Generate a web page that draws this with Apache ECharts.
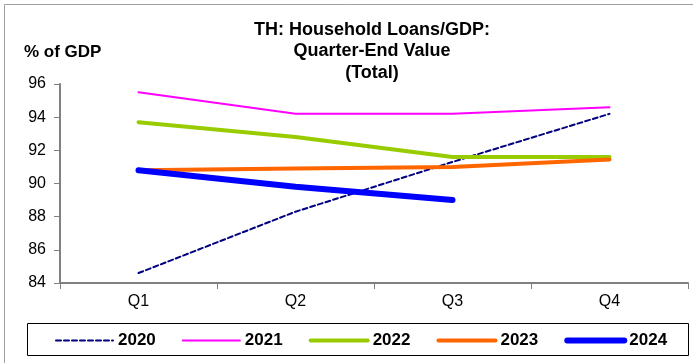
<!DOCTYPE html>
<html>
<head>
<meta charset="utf-8">
<script src="https://cdn.jsdelivr.net/npm/echarts@6/dist/echarts.min.js"></script>
<style>
  html, body { margin: 0; padding: 0; background: #fff; }
  #chart { width: 693px; height: 363px; }
</style>
</head>
<body>
<div id="chart"></div>
<script>
var quarters = ["Q1", "Q2", "Q3", "Q4"];
var y2020 = [84.6, 88.3, 91.3, 94.2];
var y2021 = [95.5, 94.2, 94.2, 94.6];
var y2022 = [93.7, 92.8, 91.6, 91.6];
var y2023 = [90.8, 90.9, 91.0, 91.45];
var y2024 = [90.8, 89.8, 89.0];

var FONT = "Liberation Sans, Arial, sans-serif";
var myChart = echarts.init(document.getElementById("chart"));

var styles = {
  "2020": { color: "#000080", width: 2, type: [5, 3] },
  "2021": { color: "#FF00FF", width: 2, type: "solid" },
  "2022": { color: "#99CC00", width: 4, type: "solid" },
  "2023": { color: "#FF6600", width: 4, type: "solid" },
  "2024": { color: "#0000FF", width: 6, type: "solid" },
};

function mkLine(name, data) {
  var s = styles[name];
  return {
    name: name,
    type: "line",
    data: data,
    symbol: "none",
    lineStyle: { color: s.color, width: s.width, type: s.type, cap: "round" },
    itemStyle: { color: s.color },
  };
}

// legend items: line only, no symbol
var legendData = Object.keys(styles).map(function (k) {
  var s = styles[k];
  return {
    name: k,
    itemStyle: { opacity: 0 },
    lineStyle: { color: s.color, width: s.width, type: s.type, cap: "round" },
  };
});

var option = {
  animation: false,
  textStyle: { fontFamily: FONT },
  title: {
    text: "TH: Household Loans/GDP:\nQuarter-End Value\n(Total)",
    left: 367,
    textAlign: "center",
    top: 14,
    textStyle: { fontSize: 18, fontWeight: "bold", color: "#000", lineHeight: 21.5, fontFamily: FONT },
  },
  graphic: [
    {
      type: "rect",
      shape: { x: 4.5, y: 4.5, width: 700, height: 360 },
      style: { fill: "none", stroke: "#a0a0a0", lineWidth: 1 },
    },
    {
      type: "rect",
      shape: { x: 27.5, y: 323.5, width: 661, height: 32 },
      style: { fill: "none", stroke: "#000", lineWidth: 1 },
    },
    {
      type: "text",
      x: 24,
      y: 52,
      style: { text: "% of GDP", font: "bold 17px " + FONT, fill: "#000", verticalAlign: "middle" },
    },
  ],
  legend: {
    top: 327,
    left: 50,
    itemWidth: 57,
    itemHeight: 14,
    itemGap: 26,
    textStyle: { fontSize: 17, fontWeight: "bold", color: "#000", fontFamily: FONT },
    data: legendData,
  },
  grid: { left: 60, right: 5, top: 84, bottom: 80 },
  xAxis: {
    type: "category",
    data: quarters,
    boundaryGap: true,
    axisLine: { lineStyle: { color: "#808080", width: 2 } },
    axisTick: { show: true, length: 6, lineStyle: { color: "#808080", width: 1 } },
    axisLabel: { color: "#000", fontSize: 16, margin: 11 },
  },
  yAxis: {
    type: "value",
    min: 84,
    max: 96,
    interval: 2,
    axisLine: { show: true, lineStyle: { color: "#808080", width: 2 } },
    axisTick: { show: true, length: 6, lineStyle: { color: "#808080", width: 1 } },
    axisLabel: { color: "#000", fontSize: 16, margin: 14 },
    splitLine: { show: false },
  },
  series: [
    mkLine("2020", y2020),
    mkLine("2021", y2021),
    mkLine("2022", y2022),
    mkLine("2023", y2023),
    mkLine("2024", y2024),
  ],
};

myChart.setOption(option);
</script>
</body>
</html>
